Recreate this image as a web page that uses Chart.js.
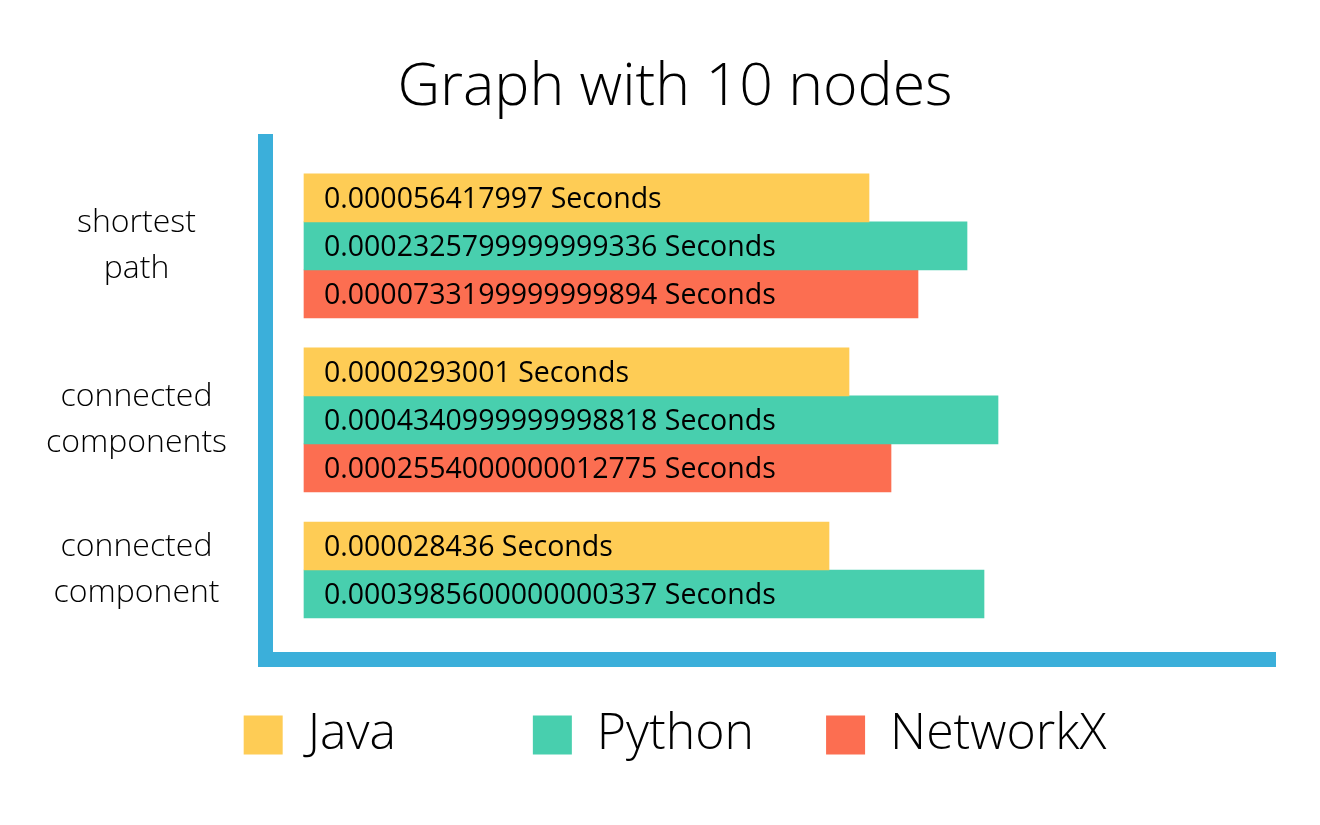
<!DOCTYPE html>
<html>
<head>
<meta charset="utf-8">
<script src="https://cdn.jsdelivr.net/npm/chart.js@4.4.1/dist/chart.umd.min.js"></script>
<style>
html,body{margin:0;padding:0;background:#ffffff;}
canvas{display:block;}
</style>
</head>
<body>
<canvas id="c" width="1320" height="825"></canvas>
<script>
// ---------------- data ----------------
const chartTitle = 'Graph with 10 nodes';
const categories = [['shortest', 'path'], ['connected', 'components'], ['connected', 'component']];
const seriesNames = ['Java', 'Python', 'NetworkX'];
const unitText = 'Seconds';

// times printed on the bars (seconds)
const javaSeconds = ['0.000056417997', '0.0000293001', '0.000028436'];
const pythonSeconds = ['0.0002325799999999336', '0.0004340999999998818', '0.0003985600000000337'];
const networkxSeconds = ['0.0000733199999999894', '0.0002554000000012775', null];

// bar lengths as drawn in the picture (relative display units)
const javaBar = [56.5, 54.5, 52.5];
const pythonBar = [66.3, 69.4, 68.0];
const networkxBar = [61.4, 58.7, null];

// ---------------- style ----------------
const FAMILY = "'Open Sans', 'Noto Sans', sans-serif";
const LIGHT = '300';
const COLORS = ['#FECC55', '#48CFAE', '#FC6E51'];
const AXIS_BLUE = '#3BAFDA';
const TEXT = '#000000';
const BAR_PX = 48;
const GROUP_PX = 174;
const LEGEND_FONT = 50;
const LEGEND_BOX = 39;
const LEGEND_PAD = 20;
const LEGEND_COL = 294;

function toPoints(values, texts) {
  const pts = [], labs = [];
  values.forEach((v, i) => {
    if (v !== null && v !== undefined) { pts.push({x: v, y: i}); labs.push(texts[i]); }
  });
  return {pts, labs};
}
const series = [[javaBar, javaSeconds], [pythonBar, pythonSeconds], [networkxBar, networkxSeconds]];
const datasets = series.map(([vals, secs], k) => {
  const {pts, labs} = toPoints(vals, secs);
  return {
    label: seriesNames[k],
    data: pts,
    secondsText: labs,
    backgroundColor: COLORS[k],
    borderWidth: 0,
    barThickness: BAR_PX
  };
});

// label position per category: centre of the bars actually present
function categoryTickValues() {
  return categories.map((c, i) => {
    const present = series.filter(([vals]) => vals[i] !== null && vals[i] !== undefined).length;
    const missing = series.length - present;
    return i - (missing * BAR_PX / 2) / GROUP_PX;
  });
}

const barLabels = {
  id: 'barLabels',
  afterDatasetsDraw(chart) {
    const ctx = chart.ctx;
    ctx.save();
    ctx.font = '400 28.5px ' + FAMILY;
    ctx.fillStyle = TEXT;
    ctx.textAlign = 'left';
    ctx.textBaseline = 'middle';
    chart.data.datasets.forEach((ds, i) => {
      const meta = chart.getDatasetMeta(i);
      meta.data.forEach((el, j) => {
        ctx.fillText(ds.secondsText[j] + ' ' + unitText, el.base + 20, el.y + 2);
      });
    });
    ctx.restore();
  }
};

const yMin = -(104 / GROUP_PX);
const yMax = yMin + 517 / GROUP_PX;

new Chart(document.getElementById('c'), {
  type: 'bar',
  data: { datasets },
  plugins: [barLabels],
  options: {
    indexAxis: 'y',
    responsive: false,
    animation: false,
    events: [],
    layout: { padding: { left: 30, right: 0, top: 0, bottom: 55 } },
    scales: {
      x: {
        type: 'linear',
        min: -3.9,
        max: 97.1,
        ticks: { display: false },
        grid: { display: false, drawTicks: false },
        border: { display: true, color: AXIS_BLUE, width: 15 },
        afterFit(scale) { scale.height = 31; }
      },
      y: {
        type: 'linear',
        reverse: true,
        offset: false,
        min: yMin,
        max: yMax,
        afterBuildTicks(scale) { scale.ticks = categoryTickValues().map(v => ({value: v})); },
        ticks: {
          autoSkip: false,
          crossAlign: 'center',
          padding: 38,
          color: TEXT,
          font: { family: FAMILY, size: 32, weight: LIGHT, lineHeight: 1.45 },
          callback: (value, index) => categories[index]
        },
        grid: { display: false, drawTicks: false },
        border: { display: true, color: AXIS_BLUE, width: 15 },
        afterFit(scale) { scale.width = 235; }
      },
      rightGap: {
        type: 'linear',
        position: 'right',
        display: true,
        ticks: { display: false },
        grid: { display: false, drawTicks: false },
        border: { display: false },
        afterFit(scale) { scale.width = 45; }
      }
    },
    plugins: {
      tooltip: { enabled: false },
      title: {
        display: true,
        text: chartTitle,
        color: TEXT,
        font: { family: FAMILY, size: 59, weight: LIGHT, lineHeight: 1.2 },
        padding: { top: 53, bottom: 18 }
      },
      legend: {
        display: true,
        position: 'bottom',
        labels: {
          color: TEXT,
          boxWidth: LEGEND_BOX,
          boxHeight: LEGEND_BOX,
          padding: LEGEND_PAD,
          font: { family: FAMILY, size: LEGEND_FONT, weight: LIGHT },
          generateLabels(chart) {
            const items = Chart.defaults.plugins.legend.labels.generateLabels(chart);
            const ctx = chart.ctx;
            ctx.save();
            ctx.font = LIGHT + ' ' + LEGEND_FONT + 'px ' + FAMILY;
            const target = LEGEND_COL - LEGEND_PAD - LEGEND_BOX - LEGEND_FONT / 2;
            items.forEach((it, i) => {
              if (i < items.length - 1) {
                let guard = 0;
                while (ctx.measureText(it.text + ' ').width <= target + 6 && guard++ < 40) it.text += ' ';
              }
            });
            ctx.restore();
            return items;
          }
        }
      }
    }
  }
});
</script>
</body>
</html>
